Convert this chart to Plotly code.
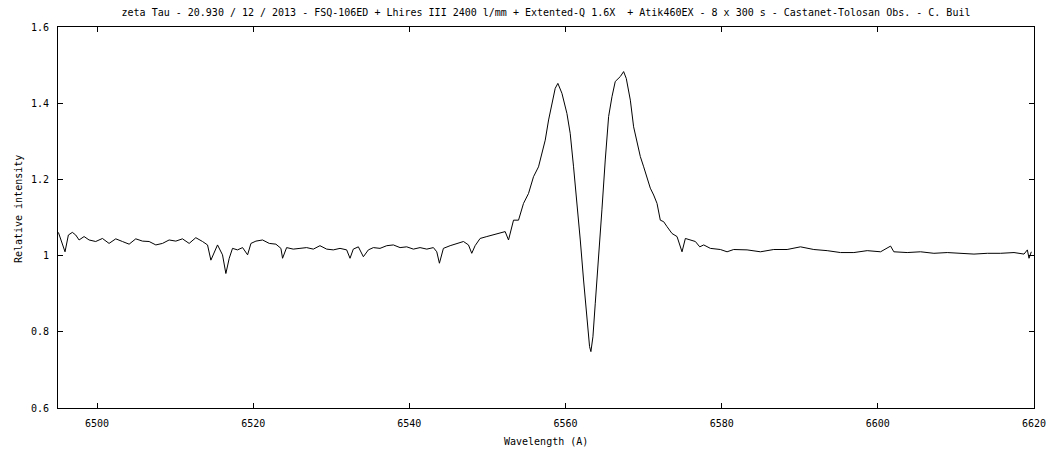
import plotly.graph_objects as go

wavelength = [
    6495.05, 6495.90, 6496.33, 6496.84, 6497.27, 6497.70, 6498.34, 6498.98, 6499.83, 6500.69,
    6501.54, 6502.40, 6503.25, 6504.11, 6504.96, 6505.82, 6506.67, 6507.53, 6508.38, 6509.23,
    6510.09, 6510.94, 6511.80, 6512.65, 6513.51, 6514.15, 6514.58, 6515.00, 6515.43, 6516.07,
    6516.50, 6516.93, 6517.35, 6517.99, 6518.64, 6519.28, 6519.71, 6520.35, 6521.20, 6522.06,
    6522.91, 6523.55, 6523.76, 6524.28, 6525.13, 6525.99, 6526.84, 6527.70, 6528.55, 6529.41,
    6530.26, 6531.12, 6531.97, 6532.40, 6532.82, 6533.47, 6534.11, 6534.75, 6535.39, 6536.24,
    6537.10, 6537.95, 6538.81, 6539.66, 6540.52, 6541.37, 6542.23, 6543.08, 6543.51, 6543.85,
    6544.36, 6545.22, 6546.07, 6546.93, 6547.57, 6547.99, 6548.42, 6549.06, 6549.92, 6550.77,
    6551.63, 6552.27, 6552.70, 6553.12, 6553.34, 6553.98, 6554.62, 6555.26, 6555.90, 6556.54,
    6556.97, 6557.40, 6557.83, 6558.25, 6558.68, 6559.02, 6559.54, 6560.18, 6560.60, 6561.03,
    6561.46, 6561.89, 6562.31, 6562.74, 6563.08, 6563.25, 6563.51, 6563.81, 6564.24, 6564.66,
    6565.09, 6565.52, 6565.95, 6566.37, 6567.02, 6567.44, 6567.78, 6568.30, 6568.72, 6569.15,
    6569.58, 6570.01, 6570.43, 6570.86, 6571.29, 6571.72, 6572.14, 6572.57, 6573.00, 6573.64,
    6574.28, 6574.92, 6575.35, 6575.99, 6576.63, 6577.19, 6577.70, 6578.55, 6579.83, 6580.69,
    6581.54, 6583.25, 6584.96, 6586.67, 6588.38, 6590.09, 6591.80, 6593.51, 6595.22, 6596.93,
    6598.64, 6600.35, 6601.63, 6602.05, 6603.76, 6605.47, 6607.18, 6608.89, 6610.60, 6612.31,
    6614.02, 6615.73, 6617.44, 6618.72, 6619.15, 6619.36, 6619.66,
]

intensity = [
    1.061, 1.010, 1.054, 1.061, 1.054, 1.041, 1.050, 1.041, 1.037, 1.045,
    1.032, 1.044, 1.037, 1.030, 1.044, 1.038, 1.037, 1.028, 1.032, 1.041,
    1.038, 1.044, 1.032, 1.047, 1.037, 1.028, 0.988, 1.010, 1.028, 1.002,
    0.953, 0.993, 1.019, 1.015, 1.021, 1.002, 1.032, 1.038, 1.041, 1.032,
    1.030, 1.019, 0.993, 1.021, 1.017, 1.019, 1.021, 1.017, 1.026, 1.017,
    1.015, 1.019, 1.015, 0.993, 1.017, 1.023, 0.997, 1.015, 1.021, 1.019,
    1.026, 1.028, 1.021, 1.023, 1.017, 1.021, 1.017, 1.021, 1.010, 0.980,
    1.019, 1.026, 1.032, 1.037, 1.028, 1.006, 1.026, 1.045, 1.050, 1.054,
    1.058, 1.063, 1.041, 1.072, 1.093, 1.093, 1.137, 1.163, 1.207, 1.233,
    1.268, 1.303, 1.356, 1.400, 1.439, 1.452, 1.426, 1.373, 1.321, 1.233,
    1.146, 1.041, 0.936, 0.831, 0.761, 0.748, 0.787, 0.875, 0.988, 1.120,
    1.251, 1.365, 1.417, 1.457, 1.470, 1.483, 1.465, 1.408, 1.338, 1.303,
    1.260, 1.233, 1.203, 1.177, 1.159, 1.137, 1.093, 1.089, 1.076, 1.058,
    1.050, 1.010, 1.045, 1.041, 1.037, 1.023, 1.028, 1.019, 1.016, 1.010,
    1.016, 1.015, 1.010, 1.016, 1.016, 1.023, 1.016, 1.013, 1.008, 1.008,
    1.013, 1.010, 1.025, 1.010, 1.008, 1.010, 1.006, 1.008, 1.006, 1.004,
    1.006, 1.006, 1.008, 1.004, 1.015, 0.993, 1.010,
]

x_ticks = [6500, 6520, 6540, 6560, 6580, 6600, 6620]
y_ticks = [0.6, 0.8, 1.0, 1.2, 1.4, 1.6]
y_tick_labels = ["0.6", "0.8", "1", "1.2", "1.4", "1.6"]

title_text = ("zeta Tau - 20.930 / 12 / 2013 - FSQ-106ED + Lhires III 2400 l/mm + "
              "Extented-Q 1.6X \u00a0+ Atik460EX - 8 x 300 s - Castanet-Tolosan Obs. - C. Buil")

FONT = "DejaVu Sans Mono"

fig = go.Figure()
fig.add_trace(go.Scatter(x=wavelength, y=intensity, mode="lines",
                         line=dict(color="black", width=1), showlegend=False,
                         hoverinfo="x+y"))

fig.update_layout(
    width=1050, height=450,
    margin=dict(l=58, r=16, t=27, b=42, autoexpand=False),
    paper_bgcolor="white", plot_bgcolor="white",
    font=dict(family=FONT, size=10, color="black"),
    title=dict(text=title_text, x=0.5, xref="paper", y=1 - 12 / 450, yref="container",
               yanchor="middle", xanchor="center", font=dict(family=FONT, size=10, color="black")),
    xaxis=dict(range=[6495, 6620], tickvals=x_ticks, ticktext=[str(v) for v in x_ticks],
               ticks="inside", ticklen=5, tickcolor="black", showline=True, linecolor="black",
               linewidth=1, mirror="ticks", showgrid=False, zeroline=False, automargin=False,
               tickfont=dict(family=FONT, size=10), ticklabelstandoff=6),
    yaxis=dict(range=[0.6, 1.6], tickvals=y_ticks, ticktext=y_tick_labels,
               ticks="inside", ticklen=5, tickcolor="black", showline=True, linecolor="black",
               linewidth=1, mirror="ticks", showgrid=False, zeroline=False, automargin=False,
               tickfont=dict(family=FONT, size=10), ticklabelstandoff=6),
    annotations=[
        dict(text="Wavelength (A)", xref="paper", yref="paper", x=0.5, y=-0.088,
             xanchor="center", yanchor="middle", showarrow=False,
             font=dict(family=FONT, size=10, color="black")),
        dict(text="Relative intensity", xref="paper", yref="paper", x=-0.041, y=0.522,
             xanchor="center", yanchor="middle", textangle=-90, showarrow=False,
             font=dict(family=FONT, size=10, color="black")),
    ],
)

fig.write_html(
    "out.html",
    config={"displayModeBar": False},
    post_script="document.body.style.margin='0';document.body.style.overflow='hidden';"
                "document.documentElement.style.overflow='hidden';",
)
